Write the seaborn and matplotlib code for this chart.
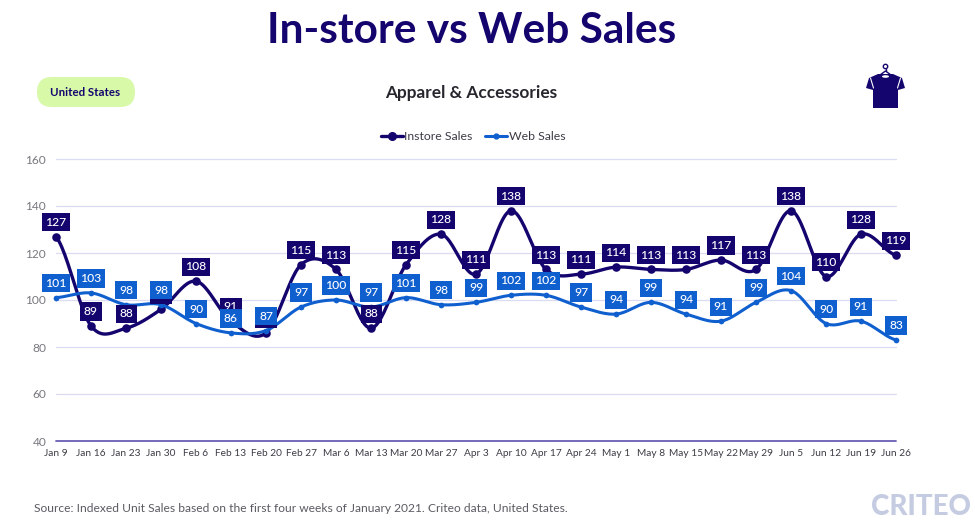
import numpy as np
import pandas as pd
import seaborn as sns
from matplotlib import pyplot
from matplotlib.lines import Line2D
from matplotlib.patches import FancyBboxPatch, Polygon, Ellipse, Circle

weeks = ['Jan 9', 'Jan 16', 'Jan 23', 'Jan 30', 'Feb 6', 'Feb 13', 'Feb 20', 'Feb 27',
         'Mar 6', 'Mar 13', 'Mar 20', 'Mar 27', 'Apr 3', 'Apr 10', 'Apr 17', 'Apr 24',
         'May 1', 'May 8', 'May 15', 'May 22', 'May 29', 'Jun 5', 'Jun 12', 'Jun 19', 'Jun 26']
instore = [127, 89, 88, 96, 108, 91, 86, 115, 113, 88, 115, 128, 111, 138, 113, 111,
           114, 113, 113, 117, 113, 138, 110, 128, 119]
web = [101, 103, 98, 98, 90, 86, 87, 97, 100, 97, 101, 98, 99, 102, 102, 97,
       94, 99, 94, 91, 99, 104, 90, 91, 83]
y_ticks = [40, 60, 80, 100, 120, 140, 160]

NAVY = '#14056e'
BLUE = '#0f5fcf'
W, H = 975, 525


def SmoothCurve(values, steps=24):
	# same look as the office "smoothed line": catmull-rom between the points
	p = np.array(values, dtype=float)
	p = np.concatenate([[p[0]], p, [p[-1]]])
	xs, ys = [], []
	for i in range(1, len(p) - 2):
		t = np.linspace(0, 1, steps, endpoint=False)
		c1 = p[i] + (p[i + 1] - p[i - 1]) / 6
		c2 = p[i + 1] - (p[i + 2] - p[i]) / 6
		y = (1 - t)**3 * p[i] + 3 * (1 - t)**2 * t * c1 + 3 * (1 - t) * t**2 * c2 + t**3 * p[i + 1]
		xs.extend(i - 1 + t)
		ys.extend(y)
	xs.append(len(values) - 1)
	ys.append(values[-1])
	return pd.DataFrame({'x': xs, 'y': ys})


def DrawSeries(ax, values, color, lw, ms, z):
	curve = SmoothCurve(values)
	sns.lineplot(data=curve, x='x', y='y', ax=ax, color=color, linewidth=lw, sort=False,
				 estimator=None, zorder=z, clip_on=False)
	pts = pd.DataFrame({'x': range(len(values)), 'y': values})
	sns.scatterplot(data=pts, x='x', y='y', ax=ax, color=color, s=ms, linewidth=0, zorder=z, clip_on=False)


def DrawLabels(ax, values, color, z):
	for i, v in enumerate(values):
		ax.annotate(str(v), (i, v), xytext=(0, 10.4), textcoords='offset points', ha='center', va='center',
					color='white', fontsize=8.7, fontweight='medium', zorder=z,
					bbox=dict(boxstyle='square,pad=0.3', fc=color, ec='none'))


sns.set_theme(style='white')
pyplot.rcParams['font.family'] = ['Lato', 'DejaVu Sans']

fig = pyplot.figure(figsize=(W / 100, H / 100), dpi=100)
ax = fig.add_axes([56 / W, 1 - 441 / H, 840 / W, 282 / H])

ax.set_xlim(0, 24)
ax.set_ylim(40, 160)
for s in ax.spines.values():
	s.set_visible(False)
ax.set_yticks(y_ticks)
ax.set_xticks(range(len(weeks)), weeks)
ax.tick_params(axis='x', labelsize=7.3, labelcolor='#3c3c46', length=0, pad=6)
ax.tick_params(axis='y', labelsize=8.6, labelcolor='#77777f', length=0, pad=7)
for v in y_ticks[1:]:
	ax.axhline(v, color='#d9dcf2', linewidth=0.9, zorder=1, clip_on=False)
ax.axhline(40, color='#6a5db5', linewidth=1.3, zorder=1, clip_on=False)

DrawSeries(ax, instore, NAVY, 2.4, 38, 3)
DrawSeries(ax, web, BLUE, 2.2, 17, 4)
DrawLabels(ax, instore, NAVY, 5)
DrawLabels(ax, web, BLUE, 6)
ax.set_xlabel('')
ax.set_ylabel('')

handles = [Line2D([], [], color=NAVY, lw=2.4, marker='o', ms=5.5),
		   Line2D([], [], color=BLUE, lw=2.2, marker='o', ms=3.5)]
fig.legend(handles, ['Instore Sales', 'Web Sales'], loc='center', bbox_to_anchor=(473 / W, 1 - 137 / H),
		   ncols=2, frameon=False, fontsize=8.8, labelcolor='#3c3c46', handlelength=1.8,
		   handletextpad=0.15, columnspacing=1.0, borderpad=0)

fig.text(471.5 / W, 1 - 31 / H, 'In-store vs Web Sales', ha='center', va='center', fontsize=30.5,
		 fontweight='bold', color=NAVY)
fig.text(471.5 / W, 1 - 93 / H, 'Apparel & Accessories', ha='center', va='center', fontsize=12.4,
		 fontweight='bold', color='#26262e')
fig.text(34 / W, 1 - 508 / H, 'Source: Indexed Unit Sales based on the first four weeks of January 2021. Criteo data, United States.',
		 ha='left', va='center', fontsize=8.65, color='#5a5a62')
fig.text(921 / W, 1 - 507 / H, 'CRITEO', ha='center', va='center', fontsize=20, fontweight='black',
		 color='#c5cce2')

# pill and shirt sit on a full-figure pixel overlay
over = fig.add_axes([0, 0, 1, 1], zorder=10)
over.set_xlim(0, W)
over.set_ylim(H, 0)
over.axis('off')
over.patch.set_alpha(0)
over.add_patch(FancyBboxPatch((37, 77), 98, 30, boxstyle='round,pad=0,rounding_size=15', fc='#d8f9a8', ec='none'))
over.text(85.5, 92, 'United States', ha='center', va='center', fontsize=8.3, fontweight='bold', color=NAVY)

shirt = [(866, 88), (869, 78), (878, 74), (893, 74), (902, 78), (905, 88), (898, 90), (898, 108), (873, 108), (873, 90)]
over.add_patch(Polygon(shirt, closed=True, fc=NAVY, ec='none'))
over.plot([870.5, 873.5], [78, 88], color='white', lw=0.8)
over.plot([900.5, 897.5], [78, 88], color='white', lw=0.8)
over.add_patch(Ellipse((885.5, 76.5), 7, 2.6, fc='white', ec='none'))
over.plot([880, 885.5, 891], [75, 71, 75], color=NAVY, lw=1.0)
over.plot([885.5, 885.5], [71, 68.5], color=NAVY, lw=1.0)
over.add_patch(Circle((885.5, 66.5), 2.2, fc='none', ec=NAVY, lw=1))

fig.savefig('out.png', dpi=100)
